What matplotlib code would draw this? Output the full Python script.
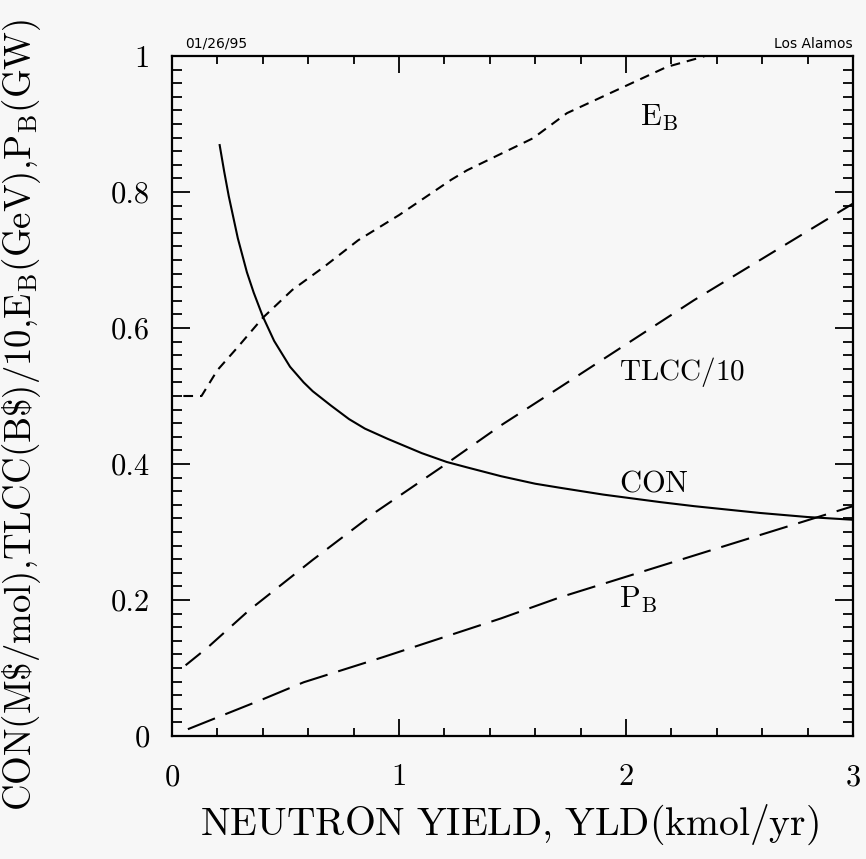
import matplotlib.pyplot as plt
from matplotlib.ticker import MultipleLocator, FixedLocator
import numpy as np

plt.rcParams['mathtext.fontset'] = 'cm'
plt.rcParams['lines.scale_dashes'] = False

# CON(M$/mol) - solid
con_x = [0.21, 0.23, 0.25, 0.29, 0.33, 0.36, 0.40, 0.45, 0.52, 0.58, 0.62, 0.70, 0.78, 0.85,
         0.95, 1.10, 1.21, 1.30, 1.45, 1.60, 1.71, 1.90, 2.15, 2.30, 2.59, 2.80, 3.0]
con_y = [0.869, 0.830, 0.794, 0.732, 0.682, 0.652, 0.617, 0.581, 0.543, 0.520, 0.507, 0.486, 0.466, 0.452,
         0.437, 0.416, 0.403, 0.395, 0.382, 0.371, 0.365, 0.355, 0.344, 0.338, 0.328, 0.322, 0.318]

# E_B(GeV) - short dashes
eb_x = [0.05, 0.13, 0.20, 0.29, 0.40, 0.53, 0.67, 0.82, 1.00, 1.23, 1.30, 1.59, 1.74, 1.96, 2.18, 2.33, 2.6, 3.0]
eb_y = [0.50, 0.50, 0.538, 0.572, 0.615, 0.656, 0.690, 0.729, 0.766, 0.818, 0.832, 0.879, 0.916, 0.950, 0.984, 0.998, 1.03, 1.07]

# TLCC(B$)/10 - medium dashes
tl_x = [0.06, 0.16, 0.34, 0.62, 0.90, 1.19, 1.45, 1.71, 2.30, 3.0]
tl_y = [0.104, 0.131, 0.185, 0.259, 0.330, 0.396, 0.457, 0.513, 0.641, 0.783]

# P_B(GW) - long dashes
pb_x = [0.07, 0.40, 0.58, 0.93, 1.45, 1.71, 2.45, 3.0]
pb_y = [0.010, 0.054, 0.079, 0.116, 0.173, 0.204, 0.281, 0.338]

xticks = [0, 1, 2, 3]
yticks = [0, 0.2, 0.4, 0.6, 0.8, 1]
ytick_labels = ['0', '0.2', '0.4', '0.6', '0.8', '1']

bg = '#f7f7f7'
fig = plt.figure(figsize=(8.66, 8.59), dpi=100, facecolor=bg)
ax = fig.add_axes([0.1986, 0.1432, 0.7864, 0.7916], facecolor=bg)

lw = 1.5
ax.plot(con_x, con_y, color='black', lw=lw)
ax.plot(eb_x, eb_y, color='black', lw=lw, dashes=(7, 5))
ax.plot(tl_x, tl_y, color='black', lw=lw, dashes=(14, 8))
ax.plot(pb_x, pb_y, color='black', lw=lw, dashes=(21, 8))

ax.set_xlim(0, 3)
ax.set_ylim(0, 1)

ax.xaxis.set_major_locator(FixedLocator(xticks))
ax.xaxis.set_minor_locator(MultipleLocator(0.2))
ax.yaxis.set_major_locator(FixedLocator(yticks))
ax.yaxis.set_minor_locator(MultipleLocator(0.02))
ax.set_xticklabels([str(v) for v in xticks])
ax.set_yticklabels(ytick_labels)

ax.tick_params(which='both', direction='in', top=True, right=True, width=1.3, colors='black')
ax.tick_params(axis='x', which='major', length=12, pad=20)
ax.tick_params(axis='x', which='minor', length=6)
ax.tick_params(axis='y', which='major', length=13, pad=16)
ax.tick_params(axis='y', which='minor', length=7)
for lab in ax.get_xticklabels() + ax.get_yticklabels():
    lab.set_fontfamily('cmr10')
    lab.set_fontsize(22)
for s in ax.spines.values():
    s.set_linewidth(1.6)

ax.set_xlabel(r'$\mathrm{NEUTRON\ YIELD{,}\ YLD(kmol/yr)}$', fontsize=28.5)
ax.set_ylabel(r'$\mathrm{CON(M\$/mol){,}TLCC(B\$)/10{,}E_B(GeV){,}P_B(GW)}$', fontsize=26.5)
ax.xaxis.set_label_coords(0.496, -0.098)
ax.yaxis.set_label_coords(-0.19, 0.472)

# curve names
ax.text(2.06, 0.898, r'$\mathrm{E_B}$', fontsize=22)
ax.text(1.97, 0.523, r'$\mathrm{TLCC/10}$', fontsize=21)
ax.text(1.97, 0.36, r'$\mathrm{CON}$', fontsize=22)
ax.text(1.97, 0.188, r'$\mathrm{P_B}$', fontsize=22)

ax.text(0.02, 1.008, '01/26/95', fontsize=10, ha='left', va='bottom', transform=ax.transAxes)
ax.text(1.0, 1.008, 'Los Alamos', fontsize=10, ha='right', va='bottom', transform=ax.transAxes)

fig.savefig('out.png', dpi=100, facecolor=bg)
